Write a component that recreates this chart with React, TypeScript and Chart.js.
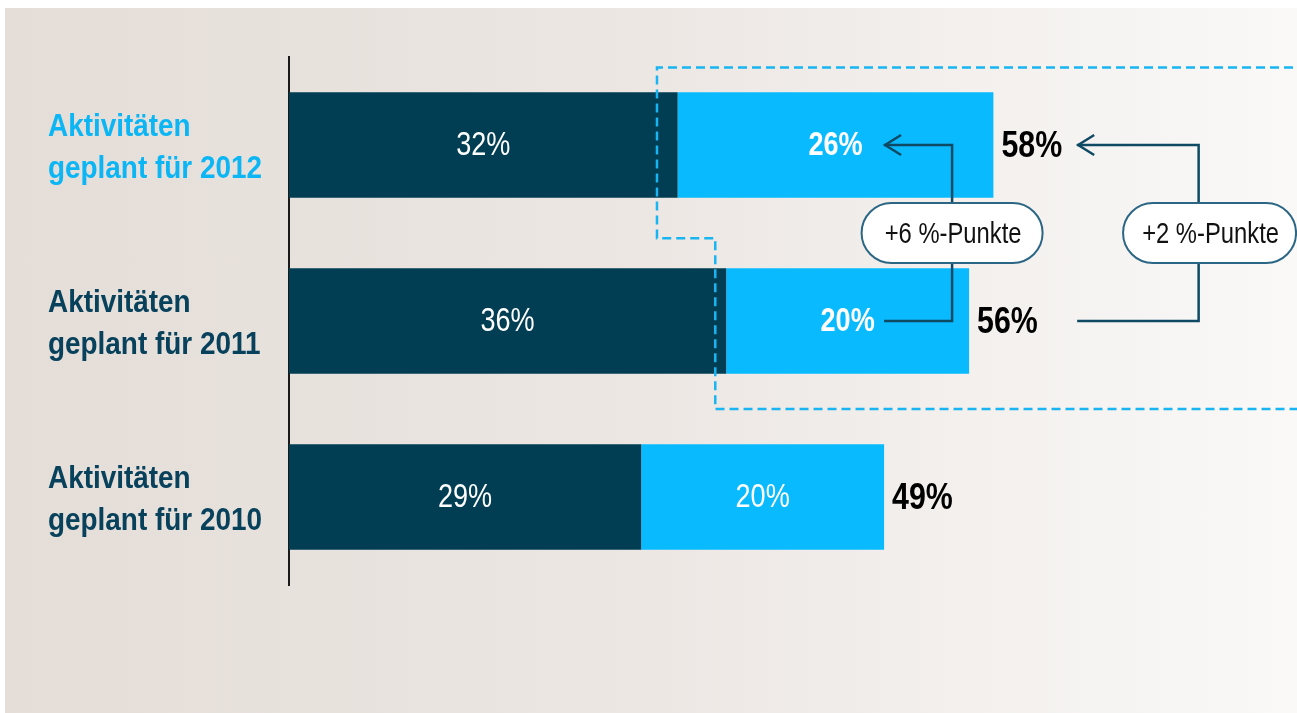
import { useEffect, useRef } from 'react';
import { Chart, registerables } from 'chart.js';

Chart.register(...registerables);

// ---- data ----
const categories: string[][] = [
  ['Aktivitäten', 'geplant für 2012'],
  ['Aktivitäten', 'geplant für 2011'],
  ['Aktivitäten', 'geplant für 2010'],
];
const baseValues = [32, 36, 29];
const addValues = [26, 20, 20];
const boldAddLabel = [true, true, false];
const changeLabels = ['+6 %-Punkte', '+2 %-Punkte'];

// ---- styles / annotation geometry (in data units) ----
const DARK = '#013d53';
const LIGHT = '#0abaff';
const CAT_COLORS = ['#0cb6f4', '#07415b', '#07415b'];
const SANS = "'Liberation Sans', Arial, sans-serif";
const NARROW_X = 0.82;
const LINE = '#0e4a63';
const PILL_BORDER = '#2b6684';

const connectors = [
  { stem: 54.6, tip: 49.0, pillCenter: 54.6, pillWidth: 181 },
  { stem: 74.9, tip: 64.9, pillCenter: 75.8, pillWidth: 173 },
];
const outline = { xTop: 30.3, xBottom: 35.1, yTop: -0.44, yMid: 0.53, yBottom: 1.5 };

function drawText(
  ctx: CanvasRenderingContext2D,
  text: string,
  x: number,
  y: number,
  font: string,
  color: string,
  align: CanvasTextAlign,
  sx: number
) {
  ctx.save();
  ctx.translate(x, y);
  ctx.scale(sx, 1);
  ctx.font = font;
  ctx.fillStyle = color;
  ctx.textAlign = align;
  ctx.textBaseline = 'middle';
  ctx.fillText(text, 0, 0);
  ctx.restore();
}

const labelsPlugin = {
  id: 'barLabels',
  afterDatasetsDraw(chart: any) {
    const ctx = chart.ctx as CanvasRenderingContext2D;
    const xs = chart.scales.x;
    const ys = chart.scales.y;
    ctx.save();

    // category labels (left)
    categories.forEach((lines, i) => {
      const cy = ys.getPixelForValue(i);
      drawText(ctx, lines[0], ys.left, cy - 18, `bold 31px ${SANS}`, CAT_COLORS[i], 'left', 0.9);
      drawText(ctx, lines[1], ys.left, cy + 24, `bold 31px ${SANS}`, CAT_COLORS[i], 'left', 0.9);
    });

    // in-bar labels
    chart.data.datasets.forEach((ds: any, di: number) => {
      const meta = chart.getDatasetMeta(di);
      meta.data.forEach((bar: any, i: number) => {
        const { x, y, base } = bar.getProps(['x', 'y', 'base'], true);
        const bold = di === 1 && boldAddLabel[i];
        drawText(ctx, ds.data[i] + '%', (x + base) / 2, y + 1, `${bold ? 'bold ' : ''}33px ${SANS}`, '#ffffff', 'center', NARROW_X);
      });
    });
    // totals
    const last = chart.getDatasetMeta(1);
    last.data.forEach((bar: any, i: number) => {
      const total = baseValues[i] + addValues[i];
      drawText(ctx, total + '%', bar.x + 8, bar.y + 2, `bold 37px ${SANS}`, '#000000', 'left', NARROW_X);
    });

    // dashed highlight outline
    ctx.setLineDash([9, 5]);
    ctx.lineWidth = 2.5;
    ctx.strokeStyle = '#19b5f2';
    ctx.beginPath();
    const right = chart.width + 10;
    const yT = ys.getPixelForValue(outline.yTop);
    const yM = ys.getPixelForValue(outline.yMid);
    const yB = ys.getPixelForValue(outline.yBottom);
    const xT = xs.getPixelForValue(outline.xTop);
    const xB = xs.getPixelForValue(outline.xBottom);
    ctx.moveTo(right, yT);
    ctx.lineTo(xT, yT);
    ctx.lineTo(xT, yM);
    ctx.lineTo(xB, yM);
    ctx.lineTo(xB, yB);
    ctx.lineTo(right, yB);
    ctx.stroke();
    ctx.setLineDash([]);

    // connectors + pills
    const yTop = ys.getPixelForValue(0);
    const yBot = ys.getPixelForValue(1);
    const yPill = ys.getPixelForValue(0.5);
    connectors.forEach((c, k) => {
      const sx = xs.getPixelForValue(c.stem);
      const tx = xs.getPixelForValue(c.tip);
      ctx.strokeStyle = LINE;
      ctx.lineWidth = 2.5;
      ctx.lineJoin = 'miter';
      ctx.beginPath();
      ctx.moveTo(tx, yTop);
      ctx.lineTo(sx, yTop);
      ctx.lineTo(sx, yBot);
      ctx.lineTo(tx, yBot);
      ctx.stroke();
      ctx.beginPath();
      ctx.moveTo(tx + 17, yTop - 10);
      ctx.lineTo(tx + 1, yTop);
      ctx.lineTo(tx + 17, yTop + 10);
      ctx.stroke();

      const pc = xs.getPixelForValue(c.pillCenter);
      const w = c.pillWidth;
      const h = 60;
      ctx.beginPath();
      (ctx as any).roundRect(pc - w / 2, yPill - h / 2, w, h, h / 2);
      ctx.fillStyle = '#ffffff';
      ctx.fill();
      ctx.lineWidth = 2;
      ctx.strokeStyle = PILL_BORDER;
      ctx.stroke();
      drawText(ctx, changeLabels[k], pc + 1, yPill + 2, `29px ${SANS}`, '#111111', 'center', NARROW_X);
    });
    ctx.restore();
  },
};

export default function App() {
  const ref = useRef<HTMLCanvasElement>(null);
  useEffect(() => {
    if (!ref.current) return;
    const chart = new Chart(ref.current, {
      type: 'bar',
      data: {
        labels: categories.map((l) => l.join(' ')),
        datasets: [
          { data: baseValues, backgroundColor: DARK, borderWidth: 0 },
          { data: addValues, backgroundColor: LIGHT, borderWidth: 0 },
        ],
      },
      options: {
        indexAxis: 'y',
        animation: false,
        responsive: false,
        events: [],
        layout: { padding: { left: 43, top: 49, bottom: 128, right: 0 } },
        datasets: { bar: { categoryPercentage: 1, barPercentage: 0.6 } },
        plugins: { legend: { display: false }, tooltip: { enabled: false } },
        scales: {
          x: { stacked: true, display: false, min: 0, max: 83 },
          y: {
            stacked: true,
            grid: { display: false, drawTicks: false },
            border: { display: true, color: '#1a1a1a', width: 2 },
            ticks: { display: false },
            afterFit: (scale: any) => {
              scale.width = 241;
            },
          },
        },
      },
      plugins: [labelsPlugin],
    });
    return () => chart.destroy();
  }, []);
  return (
    <div
      style={{
        position: 'fixed',
        left: 5,
        top: 8,
        width: 1292,
        height: 705,
        background: 'linear-gradient(to right, #e4ddd8 0%, #ece7e3 50%, #faf9f8 100%)',
      }}
    >
      <canvas ref={ref} width={1292} height={705} style={{ display: 'block' }} />
    </div>
  );
}
